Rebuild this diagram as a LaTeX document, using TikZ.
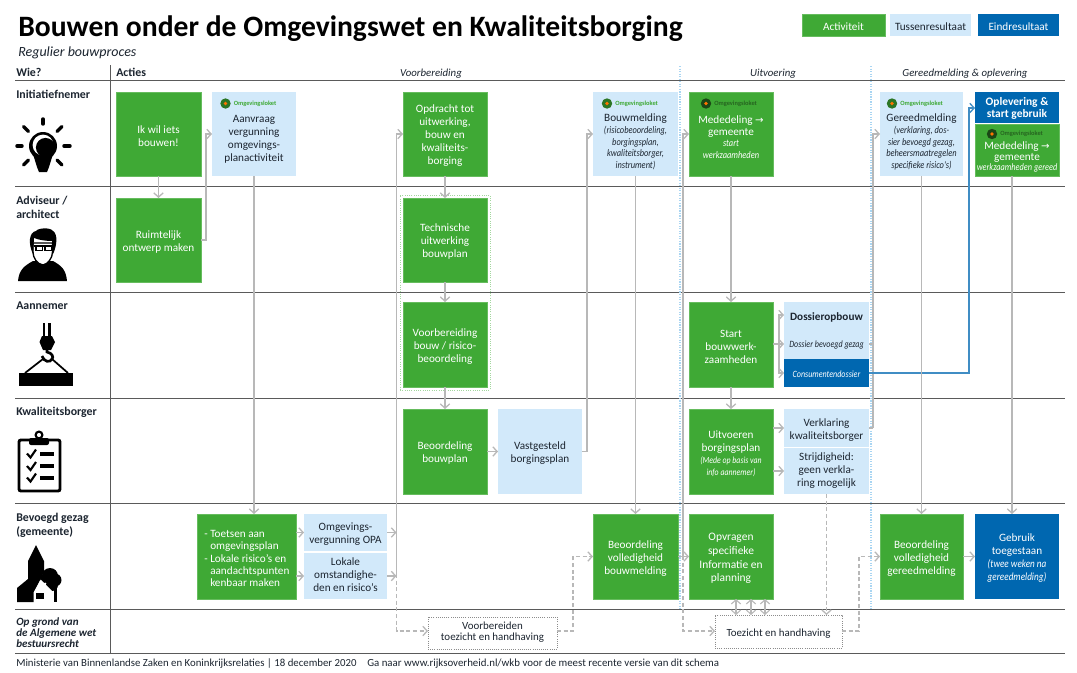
\documentclass[tikz,border=0pt]{standalone}
\usepackage{fontspec}
\setmainfont{Carlito}
\newfontfamily\dvf{DejaVu Sans}
\newfontfamily\condf[FakeStretch=0.84]{Carlito}
\usetikzlibrary{arrows.meta,calc}
\definecolor{actgreen}{HTML}{3FA935}
\definecolor{actedge}{HTML}{66BC5E}
\definecolor{lblue}{HTML}{D2E9FA}
\definecolor{dblue}{HTML}{0067B0}
\definecolor{conngray}{HTML}{B8B8B8}
\definecolor{rowline}{HTML}{5A5A5A}
\definecolor{phaseblue}{HTML}{A9D5F2}
\definecolor{ink}{HTML}{1C2530}
\newcommand\fnt[2]{\fontsize{#1}{#2}\selectfont}
\newcommand\bt{\fnt{8.4}{9.75}}
\newcommand\sm{\condf\itshape\fnt{7.5}{9}}
\newcommand\arw{{\dvf\fnt{7.6}{9}→}}
\tikzset{
  base/.style={inner sep=0pt,outer sep=0pt,align=center,rectangle},
  actbox/.style={base,fill=actgreen,draw=actedge,line width=0.5pt},
  tusbox/.style={base,fill=lblue},
  eindbox/.style={base,fill=dblue},
  dotbox/.style={base,fill=white,draw=black!45,densely dotted,line width=0.6pt},
  grpbox/.style={base,draw=actedge!60,densely dotted,line width=0.7pt},
  wtxt/.style={base,text=white,font=\bt},
  dtxt/.style={base,text=ink,font=\bt},
  rowlab/.style={anchor=base west,inner sep=0pt,text=ink,font=\bfseries\fnt{8.9}{10.4},align=left},
  rowlabm/.style={rowlab,anchor=north west},
  phase/.style={anchor=base,inner sep=0pt,text=ink,font=\itshape\fnt{8.1}{10}},
  conn/.style={draw=conngray,line width=0.95pt},
  arr/.style={conn,-{Straight Barb[length=3.2pt,width=7pt]}},
  darr/.style={arr,dash pattern=on 3pt off 2pt},
  dconn/.style={conn,dash pattern=on 3pt off 2pt},
  barr/.style={arr,{Straight Barb[length=3.2pt,width=7pt]}-{Straight Barb[length=3.2pt,width=7pt]},line width=0.8pt},
  bluearr/.style={draw=dblue!75,line width=1pt,-{Straight Barb[length=3.2pt,width=7pt]}},
  rline/.style={draw=rowline,line width=1pt},
  phaseline/.style={draw=phaseblue,line width=0.9pt,densely dotted},
  icon/.style={fill=black,draw=none},
  ray/.style={draw=black,line width=2.6pt,line cap=round}
}
% name, style, x1, y1, x2, y2, text dy, text style, text
\newcommand\bx[9]{%
  \pgfmathsetmacro\cx{(#3+#5)/2}\pgfmathsetmacro\cy{(#4+#6)/2}\pgfmathsetmacro\ty{\cy+#7+2}%
  \node[#2,minimum width={(#5-#3)*0.75pt},minimum height={(#6-#4)*0.75pt}] (#1) at (\cx,\cy) {};
  \node[#8] (#1T) at (\cx,\ty) {#9};
}
\newcommand\logo[4]{%
  \fill[#4!70!black] (#2,#3) circle (5.2);
  \fill[orange!90!red] (#2,#3) circle (1.9);
  \node[anchor=west,inner sep=0pt,text=#4,font=\bfseries\fnt{4.8}{5}] (#1) at (#2+8,#3) {Omgevingsloket};
}
\begin{document}
\begin{tikzpicture}[x=0.75pt,y=-0.75pt]
\useasboundingbox (0,0) rectangle (1077,672);
\fill[white] (0,0) rectangle (1077,672);

% title
\node[anchor=base west,inner sep=0pt,text=black,font=\bfseries\fnt{22.2}{26}] (title) at (18,36.5) {Bouwen onder de Omgevingswet en Kwaliteitsborging};
\node[anchor=base west,inner sep=0pt,text=ink,font=\itshape\fnt{10.5}{12}] (sub) at (18,56) {Regulier bouwproces};

% grid
\foreach \yy in {80.5,186.5,292.5,398.5,503.5,609.5,653.5}{\draw[rline] (15,\yy) -- (1065,\yy);}
\draw[rline] (110.5,65) -- (110.5,653.5);
\draw[phaseline] (680,66) -- (680,609);
\draw[phaseline] (871,66) -- (871,609);

% headers
\node[rowlab] (wie) at (16,76) {Wie?};
\node[rowlab] (acties) at (116,76) {Acties};
\node[phase] (ph1) at (431,76) {Voorbereiding};
\node[phase] (ph2) at (773,76) {Uitvoering};
\node[phase] (ph3) at (965,76) {Gereedmelding \& oplevering};
\node[rowlab] (r1) at (16,98) {Initiatiefnemer};
\node[rowlabm] (r2) at (16,196) {Adviseur /\\architect};
\node[rowlab] (r3) at (16,309) {Aannemer};
\node[rowlab] (r4) at (16,415) {Kwaliteitsborger};
\node[rowlabm] (r5) at (16,513) {Bevoegd gezag\\(gemeente)};
\node[rowlabm,font=\bfseries\itshape\fnt{8.3}{8.4}] (r6) at (16,617.5) {Op grond van\\de Algemene wet\\bestuursrecht};

% legend
\bx{lg1}{actbox}{802}{14}{885}{36}{0}{wtxt,font=\fnt{8.4}{10}}{Activiteit}
\bx{lg2}{tusbox}{890}{14}{971}{36}{0}{dtxt,font=\fnt{8.4}{10}}{Tussenresultaat}
\bx{lg3}{eindbox}{978}{14}{1059}{36}{0}{wtxt,font=\fnt{8.4}{10}}{Eindresultaat}

% group outline
\node[grpbox,minimum width={90*0.75pt},minimum height={195*0.75pt}] (grp) at (445,292.5) {};

% boxes
\bx{ikwil}{actbox}{116}{92}{201}{176}{0}{wtxt}{Ik wil iets\\bouwen!}
\bx{aanvr}{tusbox}{212}{92}{296}{176}{3.5}{dtxt}{Aanvraag\\vergunning\\omgevings-\\planactiviteit}
\bx{ruimt}{actbox}{116}{198}{201}{282}{0}{wtxt}{Ruimtelijk\\ontwerp maken}
\bx{opdr}{actbox}{403}{92}{487}{176}{0}{wtxt}{Opdracht tot\\uitwerking,\\bouw en\\kwaliteits-\\borging}
\bx{techn}{actbox}{403}{198}{487}{282}{0}{wtxt}{Technische\\uitwerking\\bouwplan}
\bx{voorb}{actbox}{403}{302}{487}{387}{0}{wtxt}{Voorbereiding\\bouw / risico-\\beoordeling}
\bx{beobp}{actbox}{403}{409}{487}{494}{0}{wtxt}{Beoordeling\\bouwplan}
\bx{vastg}{tusbox}{498}{409}{582}{494}{0}{dtxt}{Vastgesteld\\borgingsplan}
\bx{bouwm}{tusbox}{593}{92}{678}{176}{6}{dtxt}{Bouwmelding\\[-1pt]{\sm(risicobeoordeling,}\\[-1pt]{\sm borgingsplan,}\\[-1pt]{\sm kwaliteitsborger,}\\[-1pt]{\sm instrument)}}
\bx{meded}{actbox}{689}{92}{773}{176}{1}{wtxt}{Mededeling \arw\\[-1pt]gemeente\\[-1pt]{\sm start}\\[-1pt]{\sm werkzaamheden}}
\bx{gereed}{tusbox}{880}{92}{963}{176}{6}{dtxt}{Gereedmelding\\[-1pt]{\sm(verklaring, dos-}\\[-1pt]{\sm sier bevoegd gezag,}\\[-1pt]{\sm beheersmaatregelen}\\[-1pt]{\sm specifieke risico's)}}
\bx{oplev}{eindbox}{975}{92}{1059}{123}{-1}{wtxt,font=\bfseries\fnt{8.6}{8.6}}{Oplevering \&\\start gebruik}
\bx{mededg}{actbox}{975}{124}{1059}{176}{5}{wtxt,font=\fnt{8.4}{7.6}}{Mededeling \arw\\gemeente\\{\condf\itshape\fnt{7.4}{8}werkzaamheden gereed}}
\bx{start}{actbox}{689}{302}{773}{387}{0}{wtxt}{Start\\bouwwerk-\\zaamheden}
\bx{doss}{tusbox}{784}{302}{869}{359}{-1.5}{dtxt}{{\bfseries Dossieropbouw}\\[10pt]{\condf\itshape\fnt{7.2}{9}Dossier bevoegd gezag}}
\bx{cons}{eindbox}{784}{359}{869}{387}{-1}{wtxt}{{\condf\itshape\fnt{7.2}{9}Consumentendossier}}
\bx{uitv}{actbox}{689}{409}{773}{494}{0}{wtxt}{Uitvoeren\\borgingsplan\\[-0.5pt]{\condf\itshape\fnt{7}{8.5}(Mede op basis van}\\[-1pt]{\condf\itshape\fnt{7}{8.5}info aannemer)}}
\bx{verkl}{tusbox}{784}{409}{869}{447}{0}{dtxt}{Verklaring\\kwaliteitsborger}
\bx{strijd}{tusbox}{784}{448}{869}{494}{-2.5}{dtxt}{Strijdigheid:\\geen verkla-\\ring mogelijk}
\bx{toets}{actbox}{197}{514}{296}{599}{0}{wtxt,align=left,font=\fnt{8.4}{9.2},xshift=-1.5pt}{\hspace{8pt}\llap{- }Toetsen aan\\\hspace{8pt}omgevingsplan\\\hspace{8pt}\llap{- }Lokale risico's en\\\hspace{8pt}aandachtspunten\\\hspace{8pt}kenbaar maken}
\bx{omgv}{tusbox}{304}{514}{387}{551}{0}{dtxt}{Omgevings-\\vergunning OPA}
\bx{lok}{tusbox}{304}{553}{387}{599}{-3}{dtxt}{Lokale\\omstandighe-\\den en risico's}
\bx{beobm}{actbox}{593}{514}{678}{599}{0}{wtxt}{Beoordeling\\volledigheid\\bouwmelding}
\bx{opvr}{actbox}{689}{514}{773}{599}{0}{wtxt,font=\fnt{8.6}{10.2}}{Opvragen\\specifieke\\Informatie en\\planning}
\bx{beogr}{actbox}{880}{514}{963}{599}{0}{wtxt}{Beoordeling\\volledigheid\\gereedmelding}
\bx{gebr}{eindbox}{975}{514}{1059}{599}{0}{wtxt}{Gebruik\\toegestaan\\{\condf\itshape\fnt{8.2}{9}(twee weken na}\\{\condf\itshape\fnt{8.2}{9}gereedmelding)}}
\bx{voorbt}{dotbox}{428}{617}{557}{649}{-2.5}{dtxt,font=\fnt{8.2}{8.4}}{Voorbereiden\\toezicht en handhaving}
\bx{toez}{dotbox}{715}{615}{842}{648}{0}{dtxt,font=\fnt{8.2}{9}}{Toezicht en handhaving}

% logos
\logo{lg-a}{225.5}{103.5}{actgreen}
\logo{lg-b}{607}{103.5}{actgreen}
\logo{lg-c}{892}{103.5}{actgreen}
\logo{lg-d}{706}{103.5}{black!40!actgreen}
\logo{lg-e}{992}{134}{black!40!actgreen}

% connector junctions
\coordinate (v1) at (206,134);
\coordinate (v2) at (396.5,134);
\coordinate (v2b) at (396.5,574);
\coordinate (v2c) at (396.5,631);
\coordinate (v3) at (573,631);
\coordinate (v4) at (587,134);
\coordinate (v5) at (683,134);
\coordinate (v5b) at (683,556);
\coordinate (v5c) at (683,631);
\coordinate (v6) at (873,134);
\coordinate (v6b) at (873,428);
\coordinate (v7) at (859,631);
\coordinate (v8) at (969,373);
\coordinate (sb) at (779,344);

% connectors
\draw[arr] (ikwil) -- (ruimt);
\draw[arr] (ruimt.east) -| (v1) -- (v1 -| aanvr.west);
\draw[arr] (aanvr.south) -- (aanvr.south |- toets.north);
\draw[arr] (toets.east |- omgv.west) -- (omgv.west);
\draw[arr] (toets.east |- lok.west) -- (lok.west);
\draw[arr] (omgv.east) -- (omgv.east -| v2);
\draw[arr] (lok.east) -- (lok.east -| v2);
\draw[arr] (v2b) -- (v2) -- (opdr.west |- v2);
\draw[darr] (v2b) -- (v2c) -- (v2c -| voorbt.west);
\draw[darr] (voorbt.east |- v3) -- (v3) |- (beobm.west);
\draw[arr] (opdr) -- (techn);
\draw[arr] (techn) -- (voorb);
\draw[arr] (voorb) -- (beobp);
\draw[arr] (beobp.east |- vastg.west) -- (vastg.west);
\draw[arr] (vastg.east) -| (v4) -- (bouwm.west |- v4);
\draw[arr] (bouwm.south) -- (bouwm.south |- beobm.north);
\draw[arr] (beobm.east) -- (opvr.west);
\draw[arr] (v5b) -- (v5) -- (meded.west |- v5);
\draw[darr] (v5b) -- (v5c) -- (v5c -| toez.west);
\draw[arr] (meded) -- (start);
\draw[arr] (start) -- (uitv);
\draw[arr] (start.east |- sb) -- (sb -| doss.west);
\draw[arr] (sb) |- (doss.west |- 0,315);
\draw[arr] (sb) |- (cons.west);
\draw[conn] (doss.east |- sb) -- (sb -| v6);
\draw[conn] (verkl.east) -- (v6b);
\draw[arr] (v6b) -- (v6) -- (gereed.west |- v6);
\draw[arr] (uitv.east |- verkl.west) -- (verkl.west);
\draw[arr] (uitv.east |- strijd.west) -- (strijd.west);
\draw[darr] (strijd.south) -- (strijd.south |- toez.north);
\draw[bluearr] (cons.east) -- (v8) |- (oplev.west |- 0,108);
\draw[arr] (gereed.south) -- (gereed.south |- beogr.north);
\draw[arr] (mededg.south -| 1012,0) -- (gebr.north -| 1012,0);
\draw[arr] (beogr.east) -- (gebr.west);
\draw[darr] (toez.east |- v7) -- (v7) |- (beogr.west);
\draw[barr] (opvr.south -| 736,0) -- (toez.north -| 736,0);
\draw[barr] (opvr.south -| 751,0) -- (toez.north -| 751,0);
\draw[barr] (opvr.south -| 765,0) -- (toez.north -| 765,0);

% footer
\node[anchor=base west,inner sep=0pt,text=ink,font=\fnt{8.1}{9}] (f1) at (16,666) {Ministerie van Binnenlandse Zaken en Koninkrijksrelaties | 18 december 2020};
\node[anchor=base west,inner sep=0pt,text=ink,font=\fnt{8.15}{9}] (f2) at (367,666) {Ga naar www.rijksoverheid.nl/wkb voor de meest recente versie van dit schema};

% icon: light bulb
\foreach \a/\b/\c/\d in {43/119/43/124,17/146/22/146,64/146/70/146,23.5/126.5/28.5/131.5,62/126.5/57/131.5,23.5/165/28.5/160,62/165/57/160}{\draw[ray] (\a,\b) -- (\c,\d);}
\fill[icon] (43,146) circle (14);
\fill[icon] (33,154) -- (37,167) -- (39,172) -- (47,172) -- (49,167) -- (53,154) -- cycle;
\fill[white] (43,145) circle (10.4);
\fill[icon] (45.5,147.5) circle (9.6);

% icon: architect
\fill[icon] (18,281) .. controls (19,270) and (24,266) .. (33,261) -- (53,261) .. controls (62,266) and (66,270) .. (67,281) -- cycle;
\draw[black,line width=1pt,fill=white] (33,243) -- (52.5,243) -- (52.5,252) .. controls (52.5,258) and (48,264) .. (43,265) .. controls (37,264) and (33,258) .. (33,252) -- cycle;
\fill[icon] (33,254) .. controls (28,244) and (29,232) .. (36,231) .. controls (38,228) and (50,227) .. (53,231) .. controls (58,234) and (57,246) .. (53,254) -- (52,241) .. controls (46,241) and (39,240) .. (34,238) -- cycle;
\fill[icon] (34,245) rectangle (52,247);
\draw[black,line width=1pt,fill=white] (36,246.5) rectangle (42.5,250.5);
\draw[black,line width=1pt,fill=white] (45,246.5) rectangle (51.5,250.5);

% icon: crane hook
\fill[icon] (42.5,323) rectangle (45,337);
\fill[icon] (48,323) rectangle (50.5,337);
\fill[icon] (42,336) -- (52,336) -- (55,342) -- (51,350) -- (43,350) -- (39.5,342) -- cycle;
\draw[black,line width=2pt] (47,350) -- (47,352) .. controls (52,353) and (54,357) .. (52,359) .. controls (50,363) and (44,362) .. (42,356);
\draw[black,line width=1.3pt] (25,373) -- (43,359) (52,359) -- (68,373);
\fill[icon] (19,373) rectangle (73,386);

% icon: clipboard
\draw[black,line width=2.2pt,fill=white,rounded corners=1.5pt] (19,440) rectangle (60,491);
\draw[black,line width=1.6pt] (39,435) circle (3.4);
\fill[icon,rounded corners=1.5pt] (29,438) rectangle (49,445);
\foreach \yy in {453.5,466,477.5}{
  \draw[black,line width=1.6pt] (27,\yy) -- (30.5,\yy+4) -- (36,\yy-4);
  \fill[icon] (40,\yy-2) rectangle (54,\yy+2);
}

% icon: church, tree, house
\fill[icon] (36,545) -- (44,561) -- (44,572) -- (34,592) -- (34,602) -- (17,602) -- (17,588) -- (28,579) -- (28,561) -- cycle;
\fill[icon] (54,588) rectangle (56.5,602);
\fill[icon] (50,576) circle (8);
\fill[icon] (55,580) circle (6.5);
\fill[icon] (52,585) circle (6);
\fill[icon] (44,579) circle (4);
\draw[white,line width=1.2pt,fill=white] (41,581) -- (53,593) -- (53,602) -- (34.5,602) -- (34.5,592.5) -- cycle;
\fill[icon] (36,592.5) rectangle (43.5,598.5);
\end{tikzpicture}
\end{document}
